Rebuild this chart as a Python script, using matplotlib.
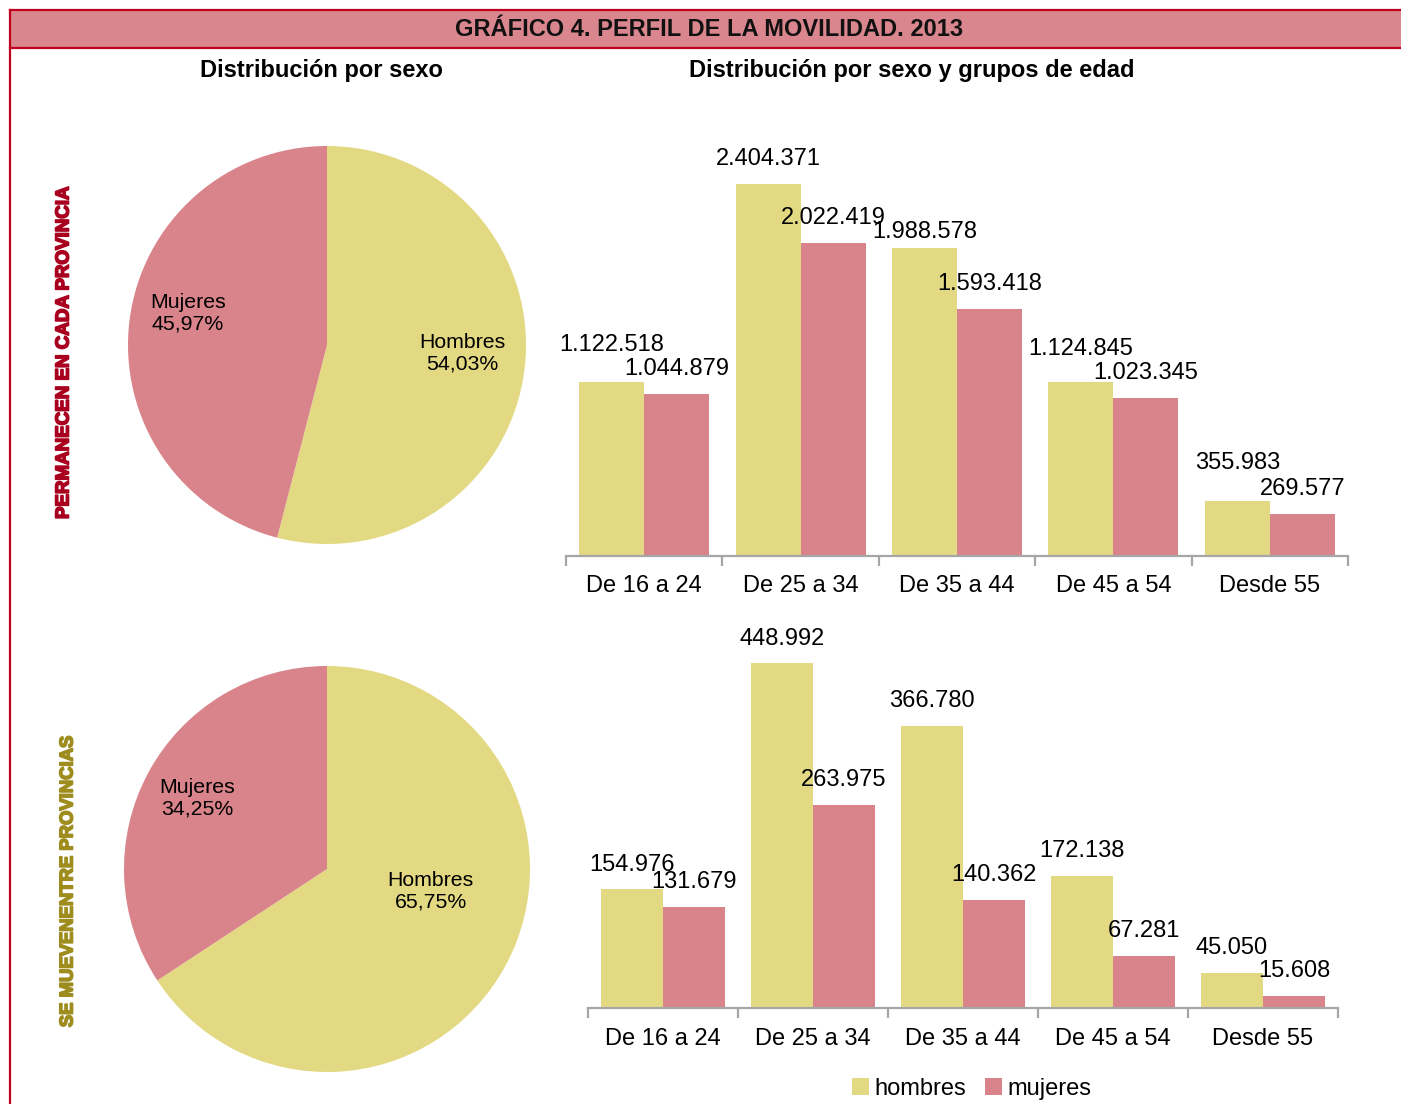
import matplotlib
matplotlib.use("Agg")
import matplotlib.pyplot as plt
from matplotlib.patches import Rectangle, Patch
import matplotlib.patheffects as pe
import numpy as np

plt.rcParams['font.family'] = ['Liberation Sans', 'DejaVu Sans']

# ---------------- data ----------------
title = "GRÁFICO 4. PERFIL DE LA MOVILIDAD. 2013"
pie_title = "Distribución por sexo"
bar_title = "Distribución por sexo y grupos de edad"
row_labels = ["PERMANECEN EN CADA PROVINCIA", "SE MUEVENENTRE PROVINCIAS"]
sexes = ["Hombres", "Mujeres"]
pie_top = [54.03, 45.97]
pie_bottom = [65.75, 34.25]
groups = ["De 16 a 24", "De 25 a 34", "De 35 a 44", "De 45 a 54", "Desde 55"]
top_hombres = [1122518, 2404371, 1988578, 1124845, 355983]
top_mujeres = [1044879, 2022419, 1593418, 1023345, 269577]
bot_hombres = [154976, 448992, 366780, 172138, 45050]
bot_mujeres = [131679, 263975, 140362, 67281, 15608]
legend_labels = ["hombres", "mujeres"]

YEL = '#E2D982'
PNK = '#D9838B'
BAND = '#DA868E'
BORDER = '#C00020'

W, H = 1401, 1104
fig = plt.figure(figsize=(W / 100, H / 100), dpi=100)


def px_axes(x0, y0, x1, y1):
    return fig.add_axes([x0 / W, 1 - y1 / H, (x1 - x0) / W, (y1 - y0) / H])


def fmt(v):
    return f"{v:,}".replace(",", ".")


def pct(v):
    return f"{v:.2f}".replace(".", ",")


# ---------------- frame / header ----------------
fig.patches.append(Rectangle((10 / W, 1 - 48 / H), (W - 10) / W, 38 / H,
                             transform=fig.transFigure, facecolor=BAND,
                             edgecolor='none', zorder=0))
fig.add_artist(plt.Line2D([10 / W, 1], [1 - 10 / H, 1 - 10 / H], color=BORDER, lw=1.6))
fig.add_artist(plt.Line2D([10 / W, 1], [1 - 48 / H, 1 - 48 / H], color=BORDER, lw=1.6))
fig.add_artist(plt.Line2D([10 / W, 10 / W], [0, 1 - 10 / H], color=BORDER, lw=1.6))

fig.text(709 / W, 1 - 30 / H, title, ha='center', va='center',
         fontsize=17, fontweight='bold', color='#111111')
fig.text(321 / W, 1 - 70 / H, pie_title, ha='center', va='center',
         fontsize=17, fontweight='bold')
fig.text(912 / W, 1 - 70 / H, bar_title, ha='center', va='center',
         fontsize=17, fontweight='bold')

fig.text(64 / W, 1 - 353 / H, row_labels[0], ha='center', va='center',
         rotation=90, fontsize=13.5, fontweight='bold', color='#A8001E',
         path_effects=[pe.withStroke(linewidth=1.2, foreground='#A8001E')])
fig.text(68 / W, 1 - 881 / H, row_labels[1], ha='center', va='center',
         rotation=90, fontsize=13.3, fontweight='bold', color='#9E8C1E',
         path_effects=[pe.withStroke(linewidth=1.2, foreground='#9E8C1E')])


# ---------------- pies ----------------
def draw_pie(cx, cy, r, vals, label_pos):
    ax = px_axes(cx - r, cy - r, cx + r, cy + r)
    ax.pie(vals, colors=[YEL, PNK], startangle=90, counterclock=False,
           radius=1.0, wedgeprops=dict(linewidth=0))
    ax.set_xlim(-1, 1)
    ax.set_ylim(-1, 1)
    ax.set_aspect('equal')
    ax.axis('off')
    for name, v, (lx, ly) in zip(sexes, vals, label_pos):
        ax.text(lx, ly, f"{name}\n{pct(v)}%", ha='center', va='center',
                fontsize=15.3, linespacing=1.15)


draw_pie(327, 345, 199, pie_top, [(0.68, -0.04), (-0.70, 0.16)])
draw_pie(327, 869, 203, pie_bottom, [(0.51, -0.11), (-0.64, 0.35)])


# ---------------- bars ----------------
def draw_bars(x0, x1, ytop, ybase, hom, muj, ymax, bw, hom_off, pad):
    ax = px_axes(x0, ytop, x1, ybase)
    x = np.arange(len(groups))
    b1 = ax.bar(x - bw / 2, hom, width=bw, color=YEL, linewidth=0)
    b2 = ax.bar(x + bw / 2, muj, width=bw, color=PNK, linewidth=0)
    for rect, v, off in zip(b1, hom, hom_off):
        ax.annotate(fmt(v), (rect.get_x() + rect.get_width() / 2, v),
                    xytext=(0, off), textcoords='offset pixels',
                    ha='center', va='center', fontsize=17)
    for rect, v in zip(b2, muj):
        ax.annotate(fmt(v), (rect.get_x() + rect.get_width() / 2, v),
                    xytext=(0, 25), textcoords='offset pixels',
                    ha='center', va='center', fontsize=17)
    ax.set_xlim(-0.5, len(groups) - 0.5)
    ax.set_ylim(0, ymax)
    for s in ['top', 'left', 'right']:
        ax.spines[s].set_visible(False)
    ax.spines['bottom'].set_color('#A6A6A6')
    ax.spines['bottom'].set_linewidth(1.6)
    ax.set_yticks([])
    ax.set_xticks(np.arange(len(groups) + 1) - 0.5)
    ax.set_xticklabels([])
    ax.tick_params(axis='x', which='major', length=7, width=1.6,
                   color='#A6A6A6', direction='out')
    ax.set_xticks(x, minor=True)
    ax.set_xticklabels(groups, minor=True, fontsize=17)
    ax.tick_params(axis='x', which='minor', length=0, pad=pad)
    ax.patch.set_alpha(0)
    return ax


draw_bars(566, 1348, 130, 556, top_hombres, top_mujeres, 2753000, 0.4156,
          [37, 25, 16, 33, 38], 13.5)
draw_bars(588, 1338, 620, 1008, bot_hombres, bot_mujeres, 504950, 0.413,
          [24, 24, 25, 25, 25], 14.5)

handles = [Patch(facecolor=YEL, edgecolor='none'),
           Patch(facecolor=PNK, edgecolor='none')]
fig.legend(handles, legend_labels, loc='center', ncol=2,
           bbox_to_anchor=(972 / W, 1 - 1089 / H), frameon=False,
           fontsize=17, handlelength=0.7, handleheight=0.7,
           handletextpad=0.25, columnspacing=0.8)

fig.savefig("out.png", dpi=100)
